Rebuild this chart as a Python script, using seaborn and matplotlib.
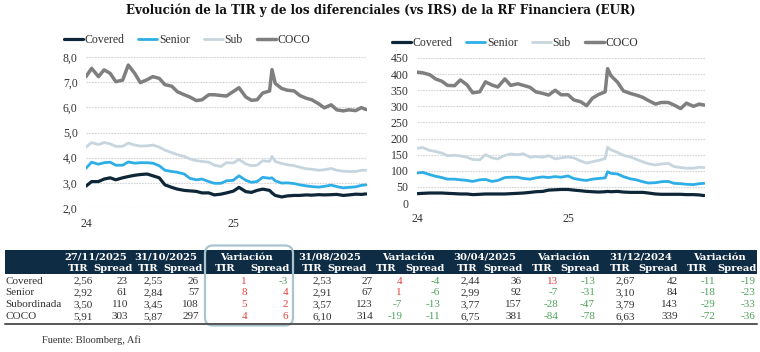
import numpy as np
import pandas as pd
import matplotlib
matplotlib.use('Agg')
import matplotlib.pyplot as plt
from matplotlib.lines import Line2D
from matplotlib.patches import Rectangle, FancyBboxPatch
import seaborn as sns

# ---------------- data ----------------
series_names = ['Covered', 'Senior', 'Sub', 'COCO']
series_colors = ['#0d2738', '#2eaee6', '#c6d5de', '#7f7f7f']
series_widths = [2.3, 2.0, 2.0, 2.5]

dates = sorted(list(pd.date_range('2024-01-01', '2025-11-15', freq='SMS'))
               + [pd.Timestamp('2025-04-07'), pd.Timestamp('2025-11-27')])

tir_covered = [2.87, 3.05, 3.05, 3.15, 3.20, 3.12, 3.20, 3.25, 3.30, 3.33, 3.35, 3.28,
               3.20, 2.92, 2.82, 2.75, 2.70, 2.68, 2.66, 2.60, 2.60, 2.52, 2.55, 2.60,
               2.67, 2.82, 2.65, 2.62, 2.70, 2.75, 2.70, 2.60, 2.50, 2.44, 2.48, 2.50,
               2.50, 2.52, 2.51, 2.53, 2.52, 2.53, 2.54, 2.50, 2.52, 2.55, 2.54, 2.56]
tir_senior = [3.58, 3.82, 3.74, 3.80, 3.82, 3.70, 3.70, 3.83, 3.78, 3.80, 3.80, 3.78,
              3.68, 3.50, 3.45, 3.42, 3.35, 3.18, 3.12, 3.15, 3.05, 2.98, 2.98, 3.08,
              3.10, 3.28, 3.10, 3.02, 3.05, 3.22, 3.18, 3.20, 3.08, 2.99, 3.00, 2.97,
              2.92, 2.88, 2.85, 2.83, 2.86, 2.91, 2.85, 2.80, 2.82, 2.84, 2.90, 2.92]
tir_sub = [4.42, 4.60, 4.52, 4.60, 4.55, 4.45, 4.45, 4.58, 4.50, 4.46, 4.47, 4.50,
           4.42, 4.30, 4.20, 4.12, 4.05, 3.95, 3.88, 3.85, 3.82, 3.70, 3.65, 3.80,
           3.79, 3.93, 3.75, 3.68, 3.70, 3.88, 3.85, 4.05, 3.85, 3.77, 3.72, 3.68,
           3.62, 3.56, 3.54, 3.50, 3.52, 3.57, 3.50, 3.46, 3.45, 3.45, 3.50, 3.50]
tir_coco = [7.22, 7.55, 7.22, 7.49, 7.35, 7.02, 7.08, 7.68, 7.35, 6.98, 7.10, 7.22,
            7.15, 6.90, 6.84, 6.62, 6.50, 6.41, 6.27, 6.30, 6.50, 6.50, 6.47, 6.45,
            6.63, 6.78, 6.41, 6.28, 6.30, 6.57, 6.65, 7.50, 6.95, 6.75, 6.68, 6.65,
            6.47, 6.36, 6.30, 6.14, 5.98, 6.10, 5.90, 5.86, 5.90, 5.87, 5.99, 5.91]

spr_covered = [29, 30, 31, 31, 31, 30, 29, 28, 28, 26, 27, 28,
               28, 28, 28, 29, 30, 31, 33, 35, 36, 40, 41, 42,
               42, 40, 38, 36, 35, 34, 35, 36, 35, 36, 34, 33,
               33, 33, 31, 28, 27, 27, 27, 27, 26, 26, 25, 23]
spr_senior = [93, 95, 88, 83, 79, 74, 74, 72, 70, 67, 72, 73,
              67, 70, 79, 80, 80, 76, 74, 78, 81, 79, 82, 80,
              84, 76, 72, 70, 74, 76, 78, 97, 92, 90, 82, 75,
              72, 66, 62, 63, 66, 67, 61, 60, 58, 57, 60, 61]
spr_sub = [170, 172, 163, 160, 155, 147, 148, 146, 142, 135, 134, 150,
           140, 137, 148, 152, 150, 153, 142, 144, 142, 147, 137, 140,
           143, 140, 130, 124, 128, 132, 138, 173, 165, 157, 148, 143,
           136, 128, 122, 118, 121, 123, 113, 110, 108, 108, 111, 110]
spr_coco = [406, 404, 398, 385, 378, 365, 364, 382, 367, 342, 345, 376,
            366, 360, 385, 365, 370, 365, 359, 345, 340, 335, 350, 336,
            336, 320, 314, 302, 325, 336, 345, 417, 395, 375, 348, 340,
            335, 328, 318, 307, 312, 312, 304, 293, 310, 300, 307, 304]

left_yticks = [2.0, 3.0, 4.0, 5.0, 6.0, 7.0, 8.0]
right_yticks = [0, 50, 100, 150, 200, 250, 300, 350, 400, 450]
x_tick_labels = ['24', '25']

title = 'Evolución de la TIR y de los diferenciales (vs IRS) de la RF Financiera (EUR)'
source = 'Fuente: Bloomberg, Afi'

table_rows = ['Covered', 'Senior', 'Subordinada', 'COCO']
table_groups = ['27/11/2025', '31/10/2025', 'Variación', '31/08/2025', 'Variación',
                '30/04/2025', 'Variación', '31/12/2024', 'Variación']
tir_27nov = [2.56, 2.92, 3.50, 5.91]; spr_27nov = [23, 61, 110, 303]
tir_31oct = [2.55, 2.84, 3.45, 5.87]; spr_31oct = [26, 57, 108, 297]
var_oct_tir = [1, 8, 5, 4];          var_oct_spr = [-3, 4, 2, 6]
tir_31aug = [2.53, 2.91, 3.57, 6.10]; spr_31aug = [27, 67, 123, 314]
var_aug_tir = [4, 1, -7, -19];        var_aug_spr = [-4, -6, -13, -11]
tir_30apr = [2.44, 2.99, 3.77, 6.75]; spr_30apr = [36, 92, 157, 381]
var_apr_tir = [13, -7, -28, -84];     var_apr_spr = [-13, -31, -47, -78]
tir_31dec = [2.67, 3.10, 3.79, 6.63]; spr_31dec = [42, 84, 143, 339]
var_dec_tir = [-11, -18, -29, -72];   var_dec_spr = [-19, -23, -33, -36]

# ---------------- figure ----------------
sns.set_theme(style='white')
plt.rcParams['font.family'] = ['Liberation Serif', 'DejaVu Serif']

W, H = 760, 352
fig = plt.figure(figsize=(W / 100, H / 100), dpi=100)
fig.patch.set_facecolor('white')

def frac(x0, y0, x1, y1):
    return [x0 / W, 1 - y1 / H, (x1 - x0) / W, (y1 - y0) / H]

palette = dict(zip(series_names, series_colors))
sizes = dict(zip(series_names, series_widths))

def long_df(cols):
    frames = []
    for name, vals in zip(series_names, cols):
        frames.append(pd.DataFrame({'date': dates, 'value': vals, 'series': name}))
    return pd.concat(frames, ignore_index=True)

df_tir = long_df([tir_covered, tir_senior, tir_sub, tir_coco])
df_spr = long_df([spr_covered, spr_senior, spr_sub, spr_coco])

xmin, xmax = pd.Timestamp('2024-01-01'), pd.Timestamp('2025-11-29')
xticks = [pd.Timestamp('2024-01-01'), pd.Timestamp('2025-01-01')]

def style_axes(ax, yticks, fmt, ylim):
    ax.set_facecolor('none')
    ax.set_xlim(xmin, xmax)
    ax.set_ylim(*ylim)
    ax.set_yticks(yticks)
    ax.set_yticklabels([fmt(v) for v in yticks], fontsize=8.5, color='#333333')
    ax.set_xticks(xticks)
    ax.set_xticklabels(x_tick_labels, fontsize=8.5, color='#333333')
    ax.tick_params(axis='both', length=0)
    ax.tick_params(axis='y', pad=6)
    ax.tick_params(axis='x', pad=7)
    ax.yaxis.grid(True, color='#d4d4d4', lw=0.8, ls=(0, (1.5, 1)))
    ax.xaxis.grid(False)
    ax.set_axisbelow(True)
    ax.set_xlabel('')
    ax.set_ylabel('')
    for s in ax.spines.values():
        s.set_visible(False)

ax1 = fig.add_axes(frac(86, 57, 367, 208))
sns.lineplot(data=df_tir, x='date', y='value', hue='series', size='series',
             hue_order=series_names, size_order=series_names,
             palette=palette, sizes=sizes, legend=False, ax=ax1)
style_axes(ax1, left_yticks, lambda v: f'{v:.1f}'.replace('.', ','), (2.0, 8.0))

ax2 = fig.add_axes(frac(417, 58, 705, 203))
sns.lineplot(data=df_spr, x='date', y='value', hue='series', size='series',
             hue_order=series_names, size_order=series_names,
             palette=palette, sizes=sizes, legend=False, ax=ax2)
style_axes(ax2, right_yticks, lambda v: f'{v:d}', (0, 450))

handles = [Line2D([0], [0], color=c, lw=w) for c, w in zip(series_colors, series_widths)]
for ax, cx, cy in [(ax1, 187, 40), (ax2, 515, 43)]:
    fig.legend(handles, series_names, loc='center', bbox_to_anchor=(cx / W, 1 - cy / H),
               ncol=4, frameon=False, fontsize=8.5, handlelength=1.6, handletextpad=0.15,
               columnspacing=1.2, labelcolor='#333333')

fig.text(381 / W, 1 - 10 / H, title, ha='center', va='center', fontsize=8.6,
         fontweight='bold', family='DejaVu Serif', color='#111111')

# ---------------- table ----------------
tab = fig.add_axes([0, 0, 1, 1], zorder=-1)
tab.set_xlim(0, W)
tab.set_ylim(H, 0)
tab.axis('off')

navy = '#0f2c45'
tab.add_patch(Rectangle((5, 250), 752, 24, facecolor=navy, edgecolor='none'))
tab.plot([5, 757], [323.5, 323.5], color='#555555', lw=1.4)

group_centers = [96, 166, 246, 330, 408, 485, 563, 641, 719]
tir_hdr_x = [78, 148, 225, 312, 386, 467, 542, 620, 697]
spr_hdr_x = [113, 183, 270, 347, 425, 503, 580, 658, 737]
tir_right = [93, 163, 247, 332, 402, 480, 558, 635, 715]
spr_right = [128, 199, 288, 373, 440, 522, 595, 678, 755]

hdr_font = dict(fontsize=7.2, fontweight='bold', color='white', family='DejaVu Serif')
for g, cx, tx, sx in zip(table_groups, group_centers, tir_hdr_x, spr_hdr_x):
    tab.text(cx, 257, g, ha='center', va='center', **hdr_font)
    tab.text(tx, 268.5, 'TIR', ha='center', va='center', **hdr_font)
    tab.text(sx, 268.5, 'Spread', ha='center', va='center', **hdr_font)

columns = [(tir_27nov, spr_27nov, False), (tir_31oct, spr_31oct, False),
           (var_oct_tir, var_oct_spr, True), (tir_31aug, spr_31aug, False),
           (var_aug_tir, var_aug_spr, True), (tir_30apr, spr_30apr, False),
           (var_apr_tir, var_apr_spr, True), (tir_31dec, spr_31dec, False),
           (var_dec_tir, var_dec_spr, True)]
row_y = [281, 292.5, 304.5, 316.5]
red, green, txt = '#e0413b', '#4fa35a', '#333333'
body = dict(fontsize=8, va='center')

for i, (lab, y) in enumerate(zip(table_rows, row_y)):
    tab.text(5, y, lab, ha='left', color=txt, **body)
    for (tv, sv, is_var), tr, sr in zip(columns, tir_right, spr_right):
        if is_var:
            tab.text(tr, y, f'{tv[i]:d}', ha='right', color=red if tv[i] > 0 else green, **body)
            tab.text(sr, y, f'{sv[i]:d}', ha='right', color=red if sv[i] > 0 else green, **body)
        else:
            tab.text(tr, y, f'{tv[i]:.2f}'.replace('.', ','), ha='right', color=txt, **body)
            tab.text(sr, y, f'{sv[i]:d}', ha='right', color=txt, **body)

tab.add_patch(FancyBboxPatch((205, 245.5), 88, 80, boxstyle='round,pad=0,rounding_size=8',
                             facecolor='none', edgecolor='#a9c3cf', lw=1.6))

fig.text(42 / W, 1 - 340 / H, source, ha='left', va='center', fontsize=7.5, color='#333333')

fig.savefig('out.png', dpi=100, facecolor='white')
